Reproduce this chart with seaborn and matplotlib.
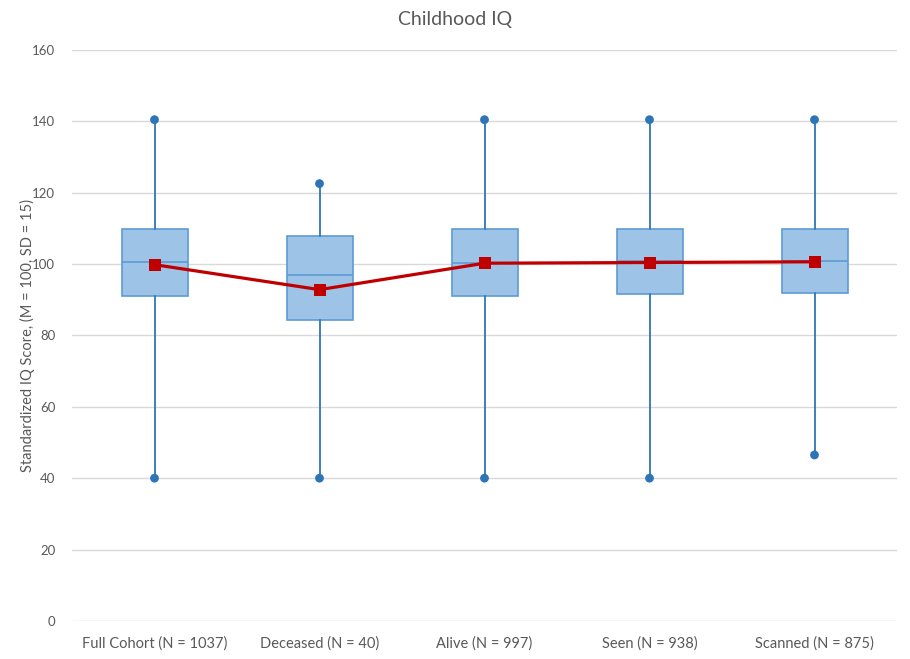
import matplotlib
matplotlib.use("Agg")
import matplotlib.pyplot as plt
import seaborn as sns
import numpy as np
import pandas as pd

categories = ["Full Cohort (N = 1037)", "Deceased (N = 40)", "Alive (N = 997)",
              "Seen (N = 938)", "Scanned (N = 875)"]
q1 = [91.0, 84.3, 91.0, 91.5, 91.8]
median = [100.5, 97.0, 100.4, 100.9, 100.9]
q3 = [109.7, 107.7, 109.7, 109.7, 109.7]
minimum = [40.0, 40.0, 40.0, 40.0, 46.5]
maximum = [140.4, 122.5, 140.4, 140.4, 140.4]
mean = [99.8, 92.8, 100.2, 100.4, 100.6]

sns.set_theme(style="white")
plt.rcParams['font.family'] = ['Lato', 'DejaVu Sans']

fig = plt.figure(figsize=(9.1, 6.59), dpi=100)
ax = fig.add_axes([72/910, 38/659, 825/910, (621-49.7)/659])

pos = np.arange(len(categories))
df = pd.DataFrame({"pos": pos, "cat": categories, "mean": mean,
                   "min": minimum, "max": maximum})

stats = [dict(med=m, q1=a, q3=b, whislo=lo, whishi=hi, fliers=[], label=c)
         for c, a, m, b, lo, hi in zip(categories, q1, median, q3, minimum, maximum)]
ax.bxp(stats, positions=pos, widths=0.4, patch_artist=True, showcaps=False,
       boxprops=dict(facecolor="#9DC3E6", edgecolor="#5B9BD5", linewidth=1.2),
       medianprops=dict(color="#5B9BD5", linewidth=1.2),
       whiskerprops=dict(color="#2E75B6", linewidth=1.3), zorder=3)

sns.scatterplot(data=df, x="pos", y="min", color="#2E75B6", s=40, edgecolor="none",
                ax=ax, zorder=4)
sns.scatterplot(data=df, x="pos", y="max", color="#2E75B6", s=40, edgecolor="none",
                ax=ax, zorder=4)
sns.lineplot(data=df, x="pos", y="mean", color="#C00000", linewidth=2.3,
             marker="s", markersize=9, markeredgewidth=0, ax=ax, zorder=5)

ax.set_xlim(-0.5, len(categories) - 0.5)
ax.set_ylim(0, 160)
ax.set_yticks(np.arange(0, 161, 20))
ax.set_xticks(pos)
ax.set_xticklabels(categories)
ax.yaxis.grid(True, color="#D9D9D9", linewidth=1)
ax.xaxis.grid(False)
ax.set_axisbelow(True)
for s in ax.spines.values():
    s.set_visible(False)
ax.tick_params(axis="both", length=0, labelsize=10.5, labelcolor="#595959")
ax.tick_params(axis="y", pad=12, labelsize=9.5)
ax.tick_params(axis="x", pad=11)
ax.set_xlabel("")
ax.set_ylabel("Standardized IQ Score, (M = 100, SD = 15)", fontsize=10.5,
              color="#595959")
ax.yaxis.label.set_verticalalignment("center")
ax.yaxis.set_label_coords((27 - 72) / 825, 0.5)
fig.text(0.5, 1 - 20/659, "Childhood IQ", fontsize=14, color="#595959",
         ha="center", va="center")

fig.savefig("out.png", dpi=100)
